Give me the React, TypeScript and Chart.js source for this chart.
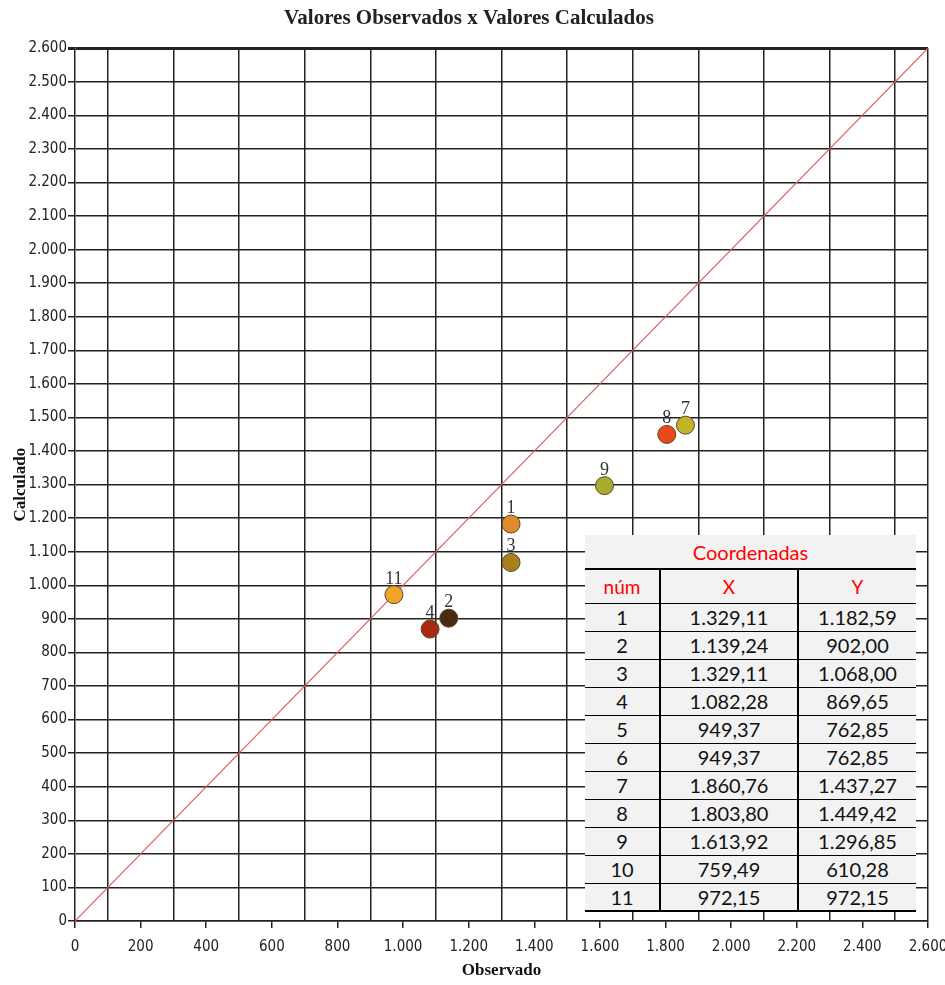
import React, { useEffect, useRef } from "react";
import { Chart, registerables } from "chart.js";
Chart.register(...registerables);

// Plotted points
const pointIds = ["1", "2", "3", "4", "7", "8", "9", "11"];
const observedX = [1329.11, 1139.24, 1329.11, 1082.28, 1860.76, 1803.8, 1613.92, 972.15];
const calculatedY = [1182.59, 902.0, 1068.0, 869.65, 1477, 1449.42, 1296.85, 972.15];
const pointColors = ["#e08a2c", "#4a2a12", "#a8801e", "#a82812", "#c4b42a", "#e8481a", "#a8ac2c", "#f0a428"];

// 1:1 reference line
const refLineX = [0, 2600];
const refLineY = [0, 2600];

// Table "Coordenadas"
const tableNum = ["1", "2", "3", "4", "5", "6", "7", "8", "9", "10", "11"];
const tableX = ["1.329,11", "1.139,24", "1.329,11", "1.082,28", "949,37", "949,37", "1.860,76", "1.803,80", "1.613,92", "759,49", "972,15"];
const tableY = ["1.182,59", "902,00", "1.068,00", "869,65", "762,85", "762,85", "1.437,27", "1.449,42", "1.296,85", "610,28", "972,15"];

const fmt = (v: number) => {
  const s = String(Math.round(v));
  return s.length > 3 ? s.slice(0, -3) + "." + s.slice(-3) : s;
};

const TICK_FONT = '"DejaVu Sans Condensed", "Liberation Sans Narrow", "Liberation Sans", sans-serif';
const SERIF = '"Liberation Serif", "DejaVu Serif", serif';

const labelPlugin = {
  id: "pointLabels",
  afterDatasetsDraw(chart: any) {
    const meta = chart.getDatasetMeta(1);
    const ctx = chart.ctx;
    ctx.save();
    ctx.font = `18px ${SERIF}`;
    ctx.fillStyle = "#333";
    ctx.textAlign = "center";
    ctx.textBaseline = "alphabetic";
    meta.data.forEach((el: any, i: number) => {
      ctx.fillText(pointIds[i], el.x, el.y - 11);
    });
    ctx.restore();
  },
};

export default function App() {
  const ref = useRef<HTMLCanvasElement>(null);
  useEffect(() => {
    document.body.style.margin = "0";
    const chart = new Chart(ref.current!, {
      type: "scatter",
      data: {
        datasets: [
          {
            type: "line",
            data: refLineX.map((x, i) => ({ x, y: refLineY[i] })),
            borderColor: "#e05a5a",
            borderWidth: 1.2,
            pointRadius: 0,
            order: 2,
          } as any,
          {
            data: observedX.map((x, i) => ({ x, y: calculatedY[i] })),
            backgroundColor: pointColors,
            borderColor: "#5a4a20",
            borderWidth: 1,
            pointRadius: 9,
            order: 1,
          },
        ],
      },
      options: {
        responsive: false,
        animation: false,
        layout: { padding: { top: 0, right: 17, left: 10, bottom: 0 } },
        plugins: {
          legend: { display: false },
          tooltip: { enabled: false },
          title: {
            display: true,
            text: "Valores Observados x Valores Calculados",
            color: "#222",
            font: { family: SERIF, size: 21, weight: "bold" },
            padding: { top: 6, bottom: 17 },
          },
        },
        scales: {
          x: {
            type: "linear",
            min: 0,
            max: 2600,
            afterFit: (s: any) => {
              s.height = 64;
              s.paddingRight = 0;
              s.paddingLeft = 0;
            },
            ticks: {
              stepSize: 100,
              autoSkip: false,
              maxRotation: 0,
              color: "#222",
              font: { family: TICK_FONT, size: 15 },
              padding: 10,
              callback: (v: any) => (Number(v) % 200 === 0 ? fmt(Number(v)) : ""),
            },
            grid: {
              color: (c: any) =>
                c.tick && (c.tick.value % 200 === 100 || c.tick.value === 2600) ? "#222" : "rgba(0,0,0,0)",
              tickColor: (c: any) => (c.tick && c.tick.value % 200 === 0 ? "#222" : "rgba(0,0,0,0)"),
              lineWidth: 1.5,
              tickLength: 7,
            },
            border: { color: "#222", width: 1.5 },
            title: {
              display: true,
              text: "Observado",
              color: "#111",
              font: { family: SERIF, size: 17, weight: "bold" },
              padding: { top: 0, bottom: 4 },
            },
          },
          y: {
            type: "linear",
            min: 0,
            max: 2600,
            afterFit: (s: any) => { s.width = 65; },
            ticks: {
              stepSize: 100,
              autoSkip: false,
              color: "#222",
              font: { family: TICK_FONT, size: 15 },
              padding: 1,
              callback: (v: any) => fmt(Number(v)),
            },
            grid: {
              color: "#222",
              lineWidth: (c: any) => (c.tick && c.tick.value === 2600 ? 3 : 1.5),
              tickLength: 7,
            },
            border: { color: "#222", width: 1.5 },
            title: {
              display: true,
              text: "Calculado",
              color: "#111",
              font: { family: SERIF, size: 17, weight: "bold" },
              padding: { top: 0, bottom: 0 },
            },
          },
        },
      },
      plugins: [labelPlugin],
    });
    return () => chart.destroy();
  }, []);

  const cellBase: React.CSSProperties = {
    textAlign: "center",
    padding: 0,
    height: 28,
    boxSizing: "border-box",
  };
  const rowH = 28;

  return (
    <div style={{ position: "relative", width: 945, height: 985, background: "#fff" }}>
      <canvas ref={ref} width={945} height={985} style={{ width: 945, height: 985, display: "block" }} />
      <div
        style={{
          position: "absolute",
          left: 585,
          top: 535,
          width: 331,
          background: "#f2f2f2",
          fontFamily: "Lato, 'Open Sans', sans-serif",
          color: "#111",
        }}
      >
        <div
          style={{
            height: 35,
            lineHeight: "35px",
            textAlign: "center",
            color: "#ff0000",
            fontSize: 20,
            borderBottom: "2px solid #000",
            boxSizing: "border-box",
          }}
        >
          Coordenadas
        </div>
        <table style={{ borderCollapse: "collapse", width: 331, tableLayout: "fixed" }}>
          <colgroup>
            <col style={{ width: 75 }} />
            <col style={{ width: 138 }} />
            <col style={{ width: 118 }} />
          </colgroup>
          <tbody>
            <tr style={{ height: 33, color: "#ff0000", fontSize: 19 }}>
              <td style={{ ...cellBase, height: 33, borderRight: "2px solid #000", borderBottom: "1.5px solid #000" }}>núm</td>
              <td style={{ ...cellBase, height: 33, borderRight: "2px solid #000", borderBottom: "1.5px solid #000" }}>X</td>
              <td style={{ ...cellBase, height: 33, borderBottom: "1.5px solid #000" }}>Y</td>
            </tr>
            {tableNum.map((n, i) => {
              const last = i === tableNum.length - 1;
              const bb = last ? "2.5px solid #000" : "1.5px solid #000";
              return (
                <tr key={n} style={{ height: rowH, fontSize: 20 }}>
                  <td style={{ ...cellBase, borderRight: "2px solid #000", borderBottom: bb }}>{n}</td>
                  <td style={{ ...cellBase, borderRight: "2px solid #000", borderBottom: bb }}>{tableX[i]}</td>
                  <td style={{ ...cellBase, borderBottom: bb }}>{tableY[i]}</td>
                </tr>
              );
            })}
          </tbody>
        </table>
      </div>
    </div>
  );
}
